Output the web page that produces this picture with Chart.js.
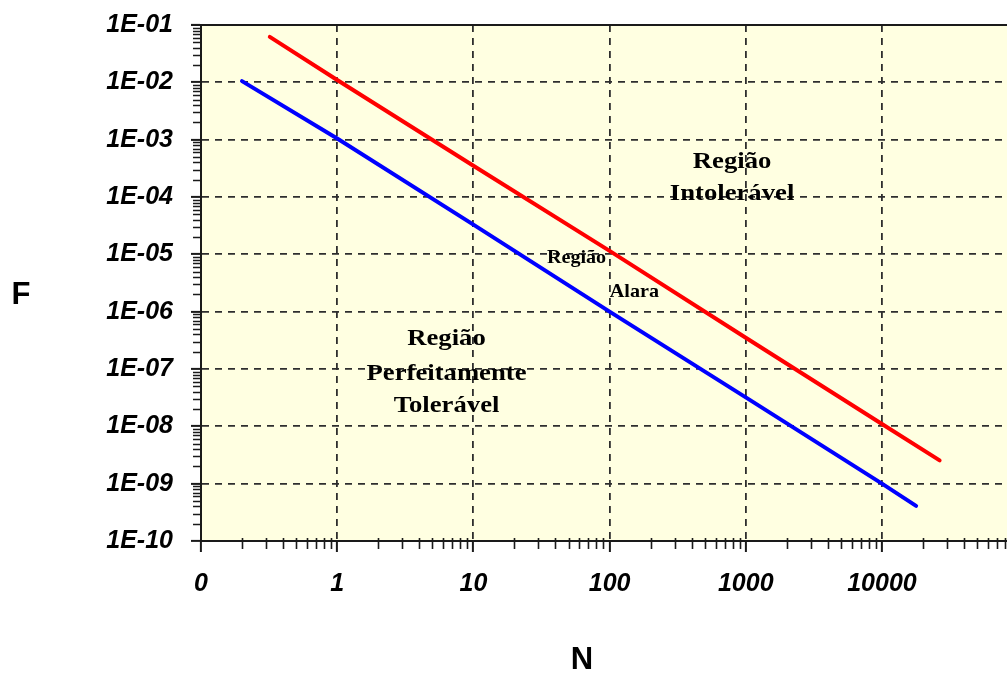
<!DOCTYPE html>
<html><head><meta charset="utf-8">
<script src="https://cdn.jsdelivr.net/npm/chart.js@4.4.0/dist/chart.umd.min.js"></script>
<style>html,body{margin:0;padding:0;background:#fff;overflow:hidden}canvas{display:block}</style>
</head><body>
<canvas id="c" width="1007" height="673"></canvas>
<script>
// ---- data ----
const blueN = [0.2, 1, 10, 100, 1000, 10000, 17800];
const blueF = [1.05e-2, 1.05e-3, 3.3e-5, 1.0e-6, 3.2e-8, 1.0e-9, 4.1e-10];
const redN  = [0.32, 1, 10, 100, 1000, 10000, 26500];
const redF  = [6.2e-2, 1.1e-2, 3.5e-4, 1.15e-5, 3.5e-7, 1.1e-8, 2.55e-9];

const xTickValues = [0.1, 1, 10, 100, 1000, 10000];
const xTickLabels = ['0', '1', '10', '100', '1000', '10000'];
const yTickValues = [1e-1, 1e-2, 1e-3, 1e-4, 1e-5, 1e-6, 1e-7, 1e-8, 1e-9, 1e-10];
const yTickLabels = ['1E-01','1E-02','1E-03','1E-04','1E-05','1E-06','1E-07','1E-08','1E-09','1E-10'];

const xMin = 0.1, xMax = 82800, yMin = 1e-10, yMax = 1e-1;

const regionTexts = ['Região', 'Intolerável', 'Região', 'Alara', 'Região', 'Perfeitamente', 'Tolerável'];
const regionN     = [793, 793, 57.2, 152, 6.35, 6.35, 6.35];
const regionF     = [3.2e-4, 8.9e-5, 7.07e-6, 1.8e-6, 2.62e-7, 6.43e-8, 1.78e-8];
const regionBig   = [true, true, false, false, true, true, true];

const xTitle = 'N', yTitle = 'F';

// ---- styles ----
const AXIS = '#1a1a1a';
const GRID = '#2e2e2e';
const tickFont = {family: "'Liberation Sans', Arial, sans-serif", size: 25, weight: 'bold', style: 'italic'};

function pts(xs, ys){ return xs.map((x,i)=>({x:x, y:ys[i]})); }

const decorPlugin = {
  id: 'decor',
  beforeDraw(chart){
    const {ctx, chartArea:a} = chart;
    ctx.save();
    ctx.fillStyle = '#FFFFE1';
    ctx.fillRect(a.left, a.top, a.right - a.left, a.bottom - a.top);
    ctx.restore();
  },
  beforeDatasetsDraw(chart){
    const {ctx, scales:{x, y}} = chart;
    ctx.save();
    ctx.fillStyle = '#000';
    ctx.textAlign = 'center';
    ctx.textBaseline = 'alphabetic';
    regionTexts.forEach((t, i) => {
      const px = x.getPixelForValue(regionN[i]);
      const py = y.getPixelForValue(regionF[i]);
      const big = regionBig[i];
      ctx.save();
      ctx.translate(px, py);
      ctx.scale(big ? 1.16 : 1.06, 1);
      ctx.font = 'bold ' + (big ? 23 : 19) + "px 'Liberation Serif', 'Times New Roman', serif";
      ctx.fillText(t, 0, 0);
      ctx.restore();
    });
    ctx.restore();
  },
  afterDraw(chart){
    const {ctx, chartArea:a, scales:{x, y}} = chart;
    ctx.save();
    ctx.strokeStyle = AXIS;
    // top border
    ctx.lineWidth = 2;
    ctx.beginPath();
    ctx.moveTo(a.left - 10, a.top);
    ctx.lineTo(a.right, a.top);
    ctx.stroke();
    // minor ticks
    ctx.lineWidth = 1.6;
    ctx.beginPath();
    for (let d = 0.1; d <= xMax; d *= 10) {
      for (let k = 2; k <= 9; k++) {
        const v = k * d;
        if (v > xMax) break;
        const px = Math.round(x.getPixelForValue(v)) + 0.5;
        ctx.moveTo(px, a.bottom - 3);
        ctx.lineTo(px, a.bottom + 8);
      }
    }
    for (let d = 1e-10; d < yMax * 0.99; d *= 10) {
      for (let k = 2; k <= 9; k++) {
        const v = k * d;
        const py = Math.round(y.getPixelForValue(v)) + 0.5;
        ctx.moveTo(a.left - 8, py);
        ctx.lineTo(a.left + 1, py);
      }
    }
    ctx.stroke();
    // axis titles
    ctx.fillStyle = '#000';
    ctx.font = "bold 31px 'Liberation Sans', Arial, sans-serif";
    ctx.textAlign = 'center';
    ctx.textBaseline = 'middle';
    ctx.fillText(yTitle, 21, 295);
    ctx.fillText(xTitle, 582, 660);
    ctx.restore();
  }
};

new Chart(document.getElementById('c'), {
  type: 'line',
  data: {
    datasets: [
      {data: pts(redN, redF), borderColor: '#FF0000', borderWidth: 4, pointRadius: 0, tension: 0, borderCapStyle: 'round', fill: false},
      {data: pts(blueN, blueF), borderColor: '#0000FF', borderWidth: 4, pointRadius: 0, tension: 0, borderCapStyle: 'round', fill: false}
    ]
  },
  options: {
    responsive: false,
    animation: false,
    devicePixelRatio: 1,
    layout: {padding: {top: 25, right: 0, left: 0, bottom: 0}},
    plugins: {legend: {display: false}, tooltip: {enabled: false}, title: {display: false}},
    scales: {
      x: {
        type: 'logarithmic', min: xMin, max: xMax,
        afterBuildTicks(s){ s.ticks = xTickValues.map(v => ({value: v, major: true})); },
        afterFit(s){ s.height = 132; s.paddingLeft = 0; s.paddingRight = 0; },
        ticks: {
          autoSkip: false, maxRotation: 0, minRotation: 0, padding: 17, color: '#000', font: tickFont,
          callback: (v) => { const i = xTickValues.findIndex(a => Math.abs(Math.log10(a) - Math.log10(v)) < 1e-9); return i >= 0 ? xTickLabels[i] : ''; }
        },
        grid: {
          display: true, drawOnChartArea: true, drawTicks: true, tickLength: 11,
          color: (c) => (c.tick && Math.abs(c.tick.value - xMin) < 1e-12) ? 'rgba(0,0,0,0)' : GRID,
          lineWidth: 1.8, tickColor: AXIS, tickWidth: 2
        },
        border: {display: true, color: AXIS, width: 2, dash: [7, 6]}
      },
      y: {
        type: 'logarithmic', min: yMin, max: yMax,
        afterBuildTicks(s){ s.ticks = yTickValues.map(v => ({value: v, major: true})); },
        afterFit(s){ s.width = 201; s.paddingTop = 0; s.paddingBottom = 0; },
        ticks: {
          autoSkip: false, padding: 18, color: '#000', font: tickFont,
          callback: (v) => { const i = yTickValues.findIndex(a => Math.abs(Math.log10(a) - Math.log10(v)) < 1e-9); return i >= 0 ? yTickLabels[i] : ''; }
        },
        grid: {
          display: true, drawOnChartArea: true, drawTicks: true, tickLength: 10,
          color: (c) => {
            if (!c.tick) return GRID;
            const lv = Math.log10(c.tick.value);
            return (Math.abs(lv - Math.log10(yMin)) < 1e-9 || Math.abs(lv - Math.log10(yMax)) < 1e-9) ? 'rgba(0,0,0,0)' : GRID;
          },
          lineWidth: 1.8, tickColor: AXIS, tickWidth: 2
        },
        border: {display: true, color: AXIS, width: 2, dash: [7, 6]}
      }
    }
  },
  plugins: [decorPlugin]
});
</script>
</body></html>
